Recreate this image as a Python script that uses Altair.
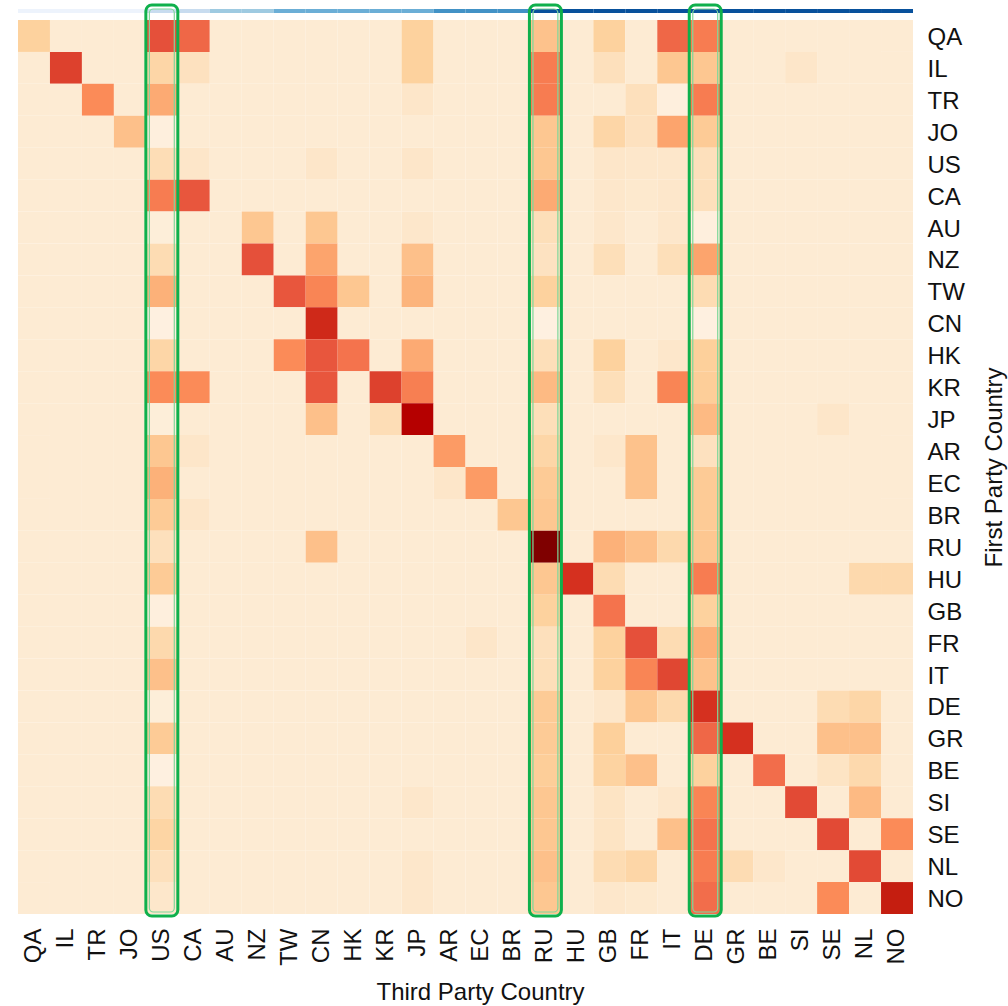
import altair as alt
import pandas as pd

# Country order shared by both axes
countries = ["QA", "IL", "TR", "JO", "US", "CA", "AU", "NZ", "TW", "CN", "HK", "KR", "JP",
             "AR", "EC", "BR", "RU", "HU", "GB", "FR", "IT", "DE", "GR", "BE", "SI", "SE",
             "NL", "NO"]

# Share (0-100) of each first party country's traffic going to each third party country
shares = {
    "QA": [25,6,6,6,70,62,6,6,6,6,6,6,25,6,6,6,32,6,25,6,62,55,6,6,6,6,6,6],
    "IL": [6,75,6,6,22,14,6,6,6,6,6,6,25,6,6,6,55,6,15,6,30,30,6,6,10,6,6,6],
    "TR": [6,6,50,6,40,6,6,6,6,6,6,6,10,6,6,6,55,6,6,15,3,55,6,6,6,6,6,6],
    "JO": [6,6,6,33,3,6,6,6,6,6,6,6,6,6,6,6,30,6,22,14,42,28,6,6,6,6,6,6],
    "US": [6,6,6,6,17,10,6,6,6,10,6,6,10,6,6,6,30,6,10,9,9,15,6,6,6,6,6,6],
    "CA": [6,6,6,6,55,68,6,6,6,6,6,6,6,6,6,6,40,6,9,8,9,15,6,6,6,6,6,6],
    "AU": [6,6,6,6,4,6,6,30,6,30,6,6,9,6,6,6,16,6,9,6,9,3,6,6,6,6,6,6],
    "NZ": [6,6,6,6,18,6,6,70,6,42,6,6,33,6,6,6,13,6,16,6,16,42,6,6,6,6,6,6],
    "TW": [6,6,6,6,38,6,6,6,68,52,30,6,37,6,6,6,25,6,6,6,6,18,6,6,6,6,6,6],
    "CN": [6,6,6,6,2,6,6,6,6,82,6,6,6,6,6,6,2,6,6,6,6,2,6,6,6,6,6,6],
    "HK": [6,6,6,6,22,6,6,6,50,68,58,6,40,6,6,6,16,6,25,6,9,26,6,6,6,6,6,6],
    "KR": [6,6,6,6,50,50,6,6,6,68,6,75,54,6,6,6,35,6,16,6,52,27,6,6,6,6,6,6],
    "JP": [6,6,6,6,4,6,6,6,6,33,6,17,90,6,6,6,16,6,6,6,6,35,6,6,6,10,6,6],
    "AR": [6,6,6,6,30,10,6,6,6,6,6,6,6,45,6,6,22,6,9,32,6,14,6,6,6,6,6,6],
    "EC": [6,6,6,6,38,6,6,6,6,6,6,6,6,10,45,6,28,6,6,32,6,28,6,6,6,6,6,6],
    "BR": [6,6,6,6,28,10,6,6,6,6,6,6,6,6,6,30,30,6,6,6,6,28,6,6,6,6,6,6],
    "RU": [6,6,6,6,15,6,6,6,6,33,6,6,6,6,6,6,100,6,38,33,20,30,6,6,6,6,6,6],
    "HU": [6,6,6,6,28,6,6,6,6,6,6,6,6,6,6,6,30,80,18,6,6,55,6,6,6,6,20,20],
    "GB": [6,6,6,6,3,6,6,6,6,6,6,6,6,6,6,6,25,6,58,6,6,25,6,6,6,6,6,6],
    "FR": [6,6,6,6,20,6,6,6,6,6,6,6,6,6,10,6,15,6,25,70,18,38,6,6,6,6,6,6],
    "IT": [6,6,6,6,33,6,6,6,6,6,6,6,6,6,6,6,16,6,25,52,73,32,6,6,6,6,6,6],
    "DE": [6,6,6,6,4,6,6,6,6,6,6,6,6,6,6,6,28,6,9,30,20,80,6,6,6,18,22,6],
    "GR": [6,6,6,6,28,6,6,6,6,6,6,6,6,6,6,6,28,6,26,6,6,62,80,6,6,33,33,6],
    "BE": [6,6,6,6,2,6,6,6,6,6,6,6,6,6,6,6,27,6,24,33,6,25,6,60,6,12,20,6],
    "SI": [6,6,6,6,18,6,6,6,6,6,6,6,9,6,6,6,30,6,12,6,9,52,6,6,72,6,35,6],
    "SE": [6,6,6,6,23,6,6,6,6,6,6,6,6,6,6,6,30,6,12,6,33,58,6,6,6,72,6,50],
    "NL": [6,6,6,6,15,6,6,6,6,6,6,6,9,6,6,6,33,6,18,22,6,55,18,9,6,6,72,6],
    "NO": [6,6,6,6,9,6,6,6,6,6,6,6,9,6,6,6,30,6,9,8,6,60,6,6,6,50,6,85],
}

# Cluster level of each third party country (strip above the matrix)
cluster_level = [1,1,1,1,2,2,3,3,4,4,4,4,4,5,5,5,6,6,6,6,6,6,6,6,6,6,6,6]

# Highlighted third party columns
highlighted = ["US", "RU", "DE"]

heat_stops = [0, 6, 15, 25, 33, 42, 50, 60, 70, 80, 90, 100]
heat_colors = ["#fef3e6", "#fdebd3", "#fde0bc", "#fdd29e", "#fdc08a", "#fca46d",
               "#fb8b58", "#f26d4b", "#e5503a", "#d5301f", "#b50000", "#7f0000"]
cluster_colors = ["#edf3fc", "#c8dcef", "#9ecae1", "#6baed6", "#4292c6", "#08519c"]

cells = pd.DataFrame(
    [{"first": fp, "third": tp, "share": v}
     for fp, row in shares.items() for tp, v in zip(countries, row)]
)
strip = pd.DataFrame({"third": countries, "level": cluster_level})
boxes = pd.DataFrame({"third": highlighted})

FONT = "Liberation Sans"
x_scale = alt.Scale(domain=countries, paddingInner=0, paddingOuter=0)
y_scale = alt.Scale(domain=countries, paddingInner=0, paddingOuter=0)

x_enc = alt.X(
    "third:N", scale=x_scale, title="Third Party Country",
    axis=alt.Axis(labelAngle=270, labelFontSize=24, labelFont=FONT, labelColor="#111",
                  labelPadding=14, ticks=False, domain=False,
                  titleFontSize=24, titleFont=FONT, titleFontWeight="normal",
                  titleColor="#111", titlePadding=15, titleX=462),
)

heat = alt.Chart(cells).mark_rect().encode(
    x=x_enc,
    y=alt.Y("first:N", scale=y_scale, title="First Party Country",
            axis=alt.Axis(orient="right", labelFontSize=24, labelFont=FONT,
                          labelColor="#111", labelPadding=14, labelOffset=2,
                          ticks=False, domain=False,
                          titleFontSize=24, titleFont=FONT, titleFontWeight="normal",
                          titleColor="#111", titleAngle=270, titleBaseline="top",
                          titlePadding=18)),
    color=alt.Color("share:Q", scale=alt.Scale(domain=heat_stops, range=heat_colors),
                    legend=None),
)

top_strip = alt.Chart(strip).mark_rect().encode(
    x=alt.X("third:N", scale=x_scale),
    y=alt.value(-11),
    y2=alt.value(-7),
    color=alt.Color("level:O", scale=alt.Scale(domain=[1, 2, 3, 4, 5, 6], range=cluster_colors),
                    legend=None),
)

outer_box = alt.Chart(boxes).mark_bar(
    fillOpacity=0, stroke="#0fb04c", strokeWidth=3, cornerRadius=6,
    width=alt.RelativeBandSize(1.0),
).encode(
    x=alt.X("third:N", scale=x_scale),
    y=alt.value(-15),
    y2=alt.value(896),
)

inner_box = alt.Chart(boxes).mark_bar(
    fillOpacity=0, stroke="#7fd89b", strokeWidth=1.2, cornerRadius=4,
    width=alt.RelativeBandSize(0.78),
).encode(
    x=alt.X("third:N", scale=x_scale),
    y=alt.value(-11),
    y2=alt.value(892),
)

chart = (
    alt.layer(heat, top_strip, inner_box, outer_box)
    .resolve_scale(color="independent")
    .properties(
        width=895, height=894,
        autosize=alt.AutoSizeParams(type="none"),
        padding={"left": 18, "top": 20, "right": 95, "bottom": 92},
        background="white",
    )
    .configure_view(stroke=None)
)

chart.save("out.html", embed_options={"renderer": "svg", "actions": False})
